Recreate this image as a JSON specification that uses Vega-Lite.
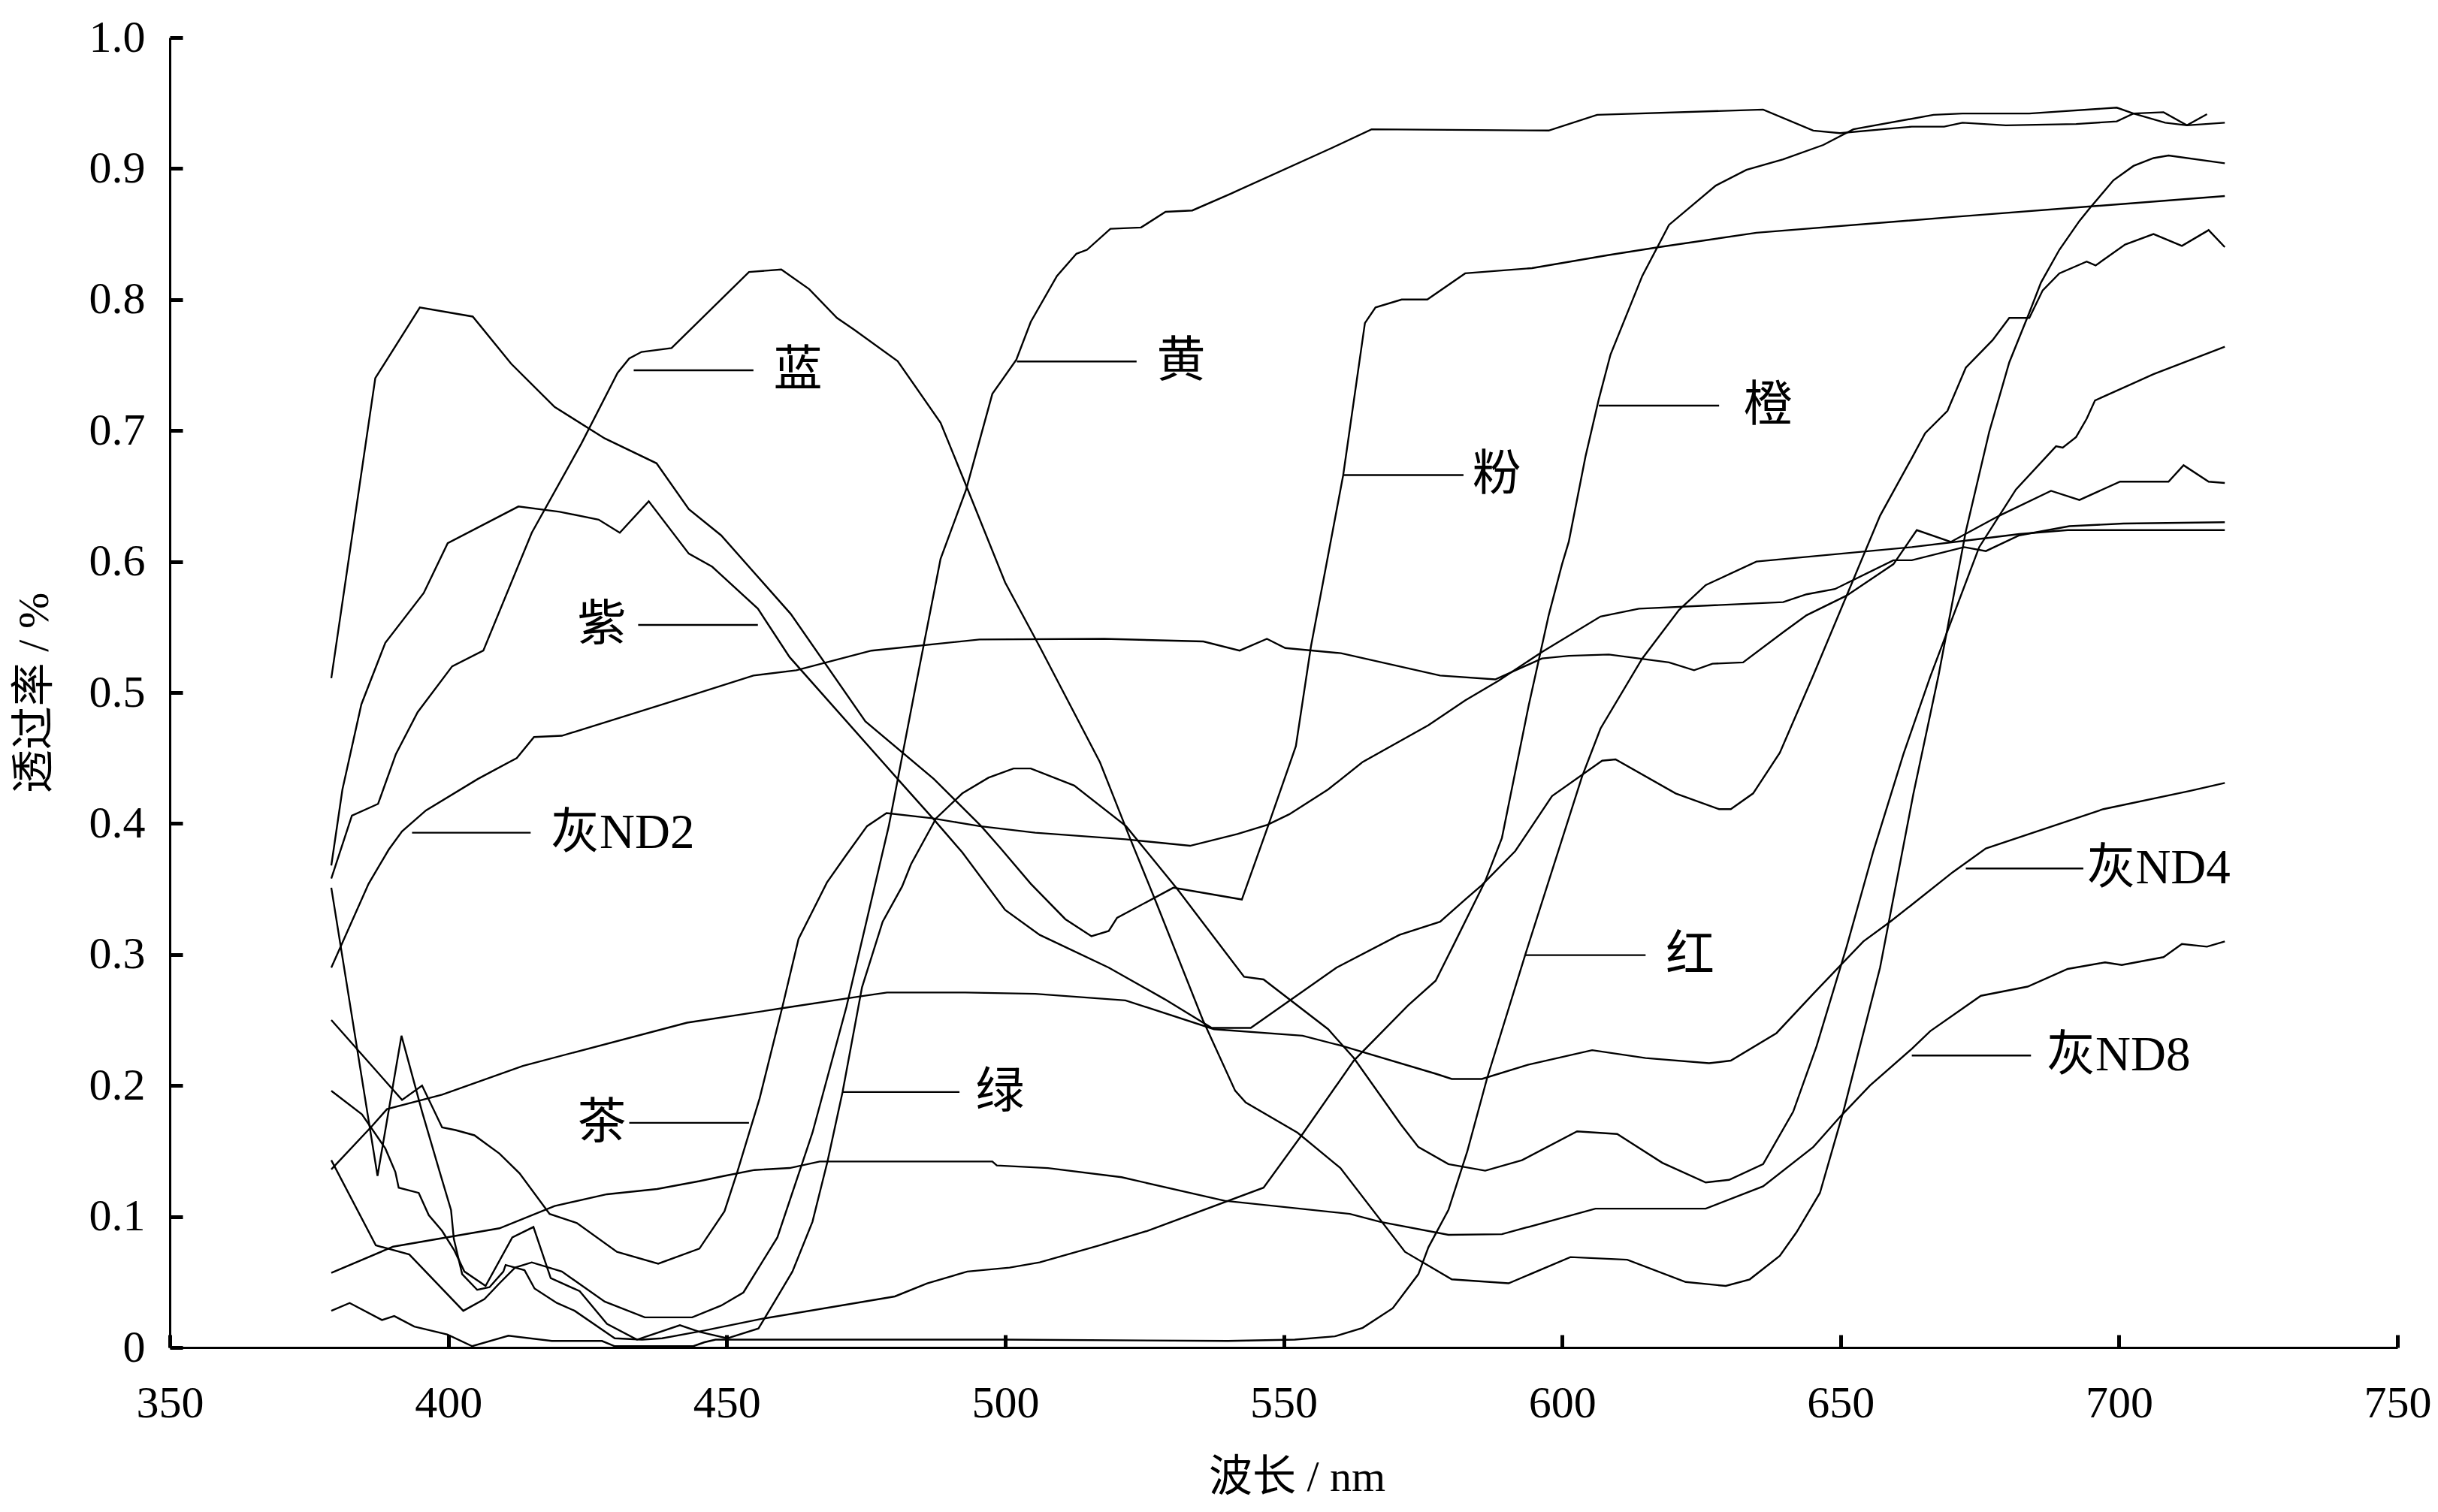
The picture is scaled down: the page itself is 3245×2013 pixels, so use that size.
{
  "$schema": "https://vega.github.io/schema/vega-lite/v6.json",
  "autosize": {"type": "none"},
  "padding": {"left": 226, "top": 50, "right": 54, "bottom": 219},
  "width": 2965,
  "height": 1744,
  "background": "white",
  "config": {
    "view": {"stroke": null},
    "axis": {
      "grid": false,
      "domainColor": "black",
      "domainWidth": 3,
      "tickColor": "black",
      "tickWidth": 5,
      "tickSize": -17,
      "labelFlush": false,
      "labelFont": "Liberation Serif",
      "labelFontSize": 60,
      "labelColor": "black",
      "titleFont": "Liberation Serif, Noto Sans CJK SC",
      "titleFontSize": 58,
      "titleFontWeight": "normal",
      "titleColor": "black"
    }
  },
  "datasets": {
    "curves": [
      {"s":"粉","w":379,"t":0.511},{"s":"粉","w":386.9,"t":0.740},{"s":"粉","w":394.9,"t":0.794},{"s":"粉","w":404.4,"t":0.787},{"s":"粉","w":411.3,"t":0.751},{"s":"粉","w":419.1,"t":0.718},{"s":"粉","w":428.1,"t":0.694},{"s":"粉","w":437.4,"t":0.675},{"s":"粉","w":443.2,"t":0.640},{"s":"粉","w":449,"t":0.620},{"s":"粉","w":461.5,"t":0.560},{"s":"粉","w":474.9,"t":0.478},{"s":"粉","w":487.2,"t":0.434},{"s":"粉","w":495.7,"t":0.398},{"s":"粉","w":499.2,"t":0.381},{"s":"粉","w":504.6,"t":0.354},{"s":"粉","w":510.8,"t":0.327},{"s":"粉","w":515.5,"t":0.314},{"s":"粉","w":518.6,"t":0.318},{"s":"粉","w":520.1,"t":0.328},{"s":"粉","w":530.2,"t":0.351},{"s":"粉","w":542.5,"t":0.342},{"s":"粉","w":547.2,"t":0.398},{"s":"粉","w":552.2,"t":0.459},{"s":"粉","w":554.9,"t":0.535},{"s":"粉","w":560.7,"t":0.666},{"s":"粉","w":564.6,"t":0.782},{"s":"粉","w":566.5,"t":0.794},{"s":"粉","w":571.2,"t":0.800},{"s":"粉","w":575.8,"t":0.800},{"s":"粉","w":582.6,"t":0.820},{"s":"粉","w":594.6,"t":0.824},{"s":"粉","w":608.4,"t":0.834},{"s":"粉","w":617.4,"t":0.840},{"s":"粉","w":634.9,"t":0.851},{"s":"粉","w":670.2,"t":0.863},{"s":"粉","w":719,"t":0.879},

      {"s":"蓝","w":379,"t":0.358},{"s":"蓝","w":382.7,"t":0.406},{"s":"蓝","w":387.4,"t":0.415},{"s":"蓝","w":390.6,"t":0.453},{"s":"蓝","w":394.5,"t":0.485},{"s":"蓝","w":400.7,"t":0.520},{"s":"蓝","w":406.3,"t":0.532},{"s":"蓝","w":415,"t":0.622},{"s":"蓝","w":423.9,"t":0.690},{"s":"蓝","w":430.4,"t":0.744},{"s":"蓝","w":432.5,"t":0.755},{"s":"蓝","w":434.7,"t":0.760},{"s":"蓝","w":440.1,"t":0.763},{"s":"蓝","w":454,"t":0.821},{"s":"蓝","w":459.8,"t":0.823},{"s":"蓝","w":464.8,"t":0.808},{"s":"蓝","w":469.8,"t":0.786},{"s":"蓝","w":472.9,"t":0.777},{"s":"蓝","w":480.7,"t":0.753},{"s":"蓝","w":488.4,"t":0.706},{"s":"蓝","w":493,"t":0.658},{"s":"蓝","w":500,"t":0.584},{"s":"蓝","w":506.2,"t":0.535},{"s":"蓝","w":517,"t":0.447},{"s":"蓝","w":522.4,"t":0.389},{"s":"蓝","w":527,"t":0.341},{"s":"蓝","w":535.5,"t":0.250},{"s":"蓝","w":541.3,"t":0.196},{"s":"蓝","w":543.2,"t":0.187},{"s":"蓝","w":552.5,"t":0.164},{"s":"蓝","w":560.2,"t":0.137},{"s":"蓝","w":571.8,"t":0.073},{"s":"蓝","w":580.2,"t":0.052},{"s":"蓝","w":590.4,"t":0.049},{"s":"蓝","w":601.5,"t":0.069},{"s":"蓝","w":611.7,"t":0.067},{"s":"蓝","w":622.2,"t":0.050},{"s":"蓝","w":629.4,"t":0.047},{"s":"蓝","w":633.7,"t":0.052},{"s":"蓝","w":639.1,"t":0.070},{"s":"蓝","w":642.1,"t":0.088},{"s":"蓝","w":646.3,"t":0.118},{"s":"蓝","w":650.5,"t":0.180},{"s":"蓝","w":657.1,"t":0.290},{"s":"蓝","w":663.1,"t":0.423},{"s":"蓝","w":667.6,"t":0.513},{"s":"蓝","w":672.5,"t":0.623},{"s":"蓝","w":676.7,"t":0.699},{"s":"蓝","w":680.3,"t":0.752},{"s":"蓝","w":683.9,"t":0.790},{"s":"蓝","w":686,"t":0.813},{"s":"蓝","w":689.3,"t":0.838},{"s":"蓝","w":692.9,"t":0.860},{"s":"蓝","w":694.8,"t":0.870},{"s":"蓝","w":699,"t":0.891},{"s":"蓝","w":702.6,"t":0.902},{"s":"蓝","w":706.2,"t":0.908},{"s":"蓝","w":708.9,"t":0.910},{"s":"蓝","w":719,"t":0.904},

      {"s":"紫","w":379,"t":0.368},{"s":"紫","w":381,"t":0.426},{"s":"紫","w":384.4,"t":0.491},{"s":"紫","w":388.7,"t":0.538},{"s":"紫","w":395.6,"t":0.576},{"s":"紫","w":399.9,"t":0.614},{"s":"紫","w":412.6,"t":0.642},{"s":"紫","w":420,"t":0.638},{"s":"紫","w":427,"t":0.632},{"s":"紫","w":430.8,"t":0.622},{"s":"紫","w":436,"t":0.646},{"s":"紫","w":443.2,"t":0.606},{"s":"紫","w":447.4,"t":0.596},{"s":"紫","w":455.6,"t":0.564},{"s":"紫","w":461.3,"t":0.527},{"s":"紫","w":480.7,"t":0.434},{"s":"紫","w":487,"t":0.404},{"s":"紫","w":492.3,"t":0.378},{"s":"紫","w":500,"t":0.334},{"s":"紫","w":506.2,"t":0.315},{"s":"紫","w":518.6,"t":0.290},{"s":"紫","w":528.6,"t":0.266},{"s":"紫","w":537.1,"t":0.244},{"s":"紫","w":544.1,"t":0.244},{"s":"紫","w":559.5,"t":0.290},{"s":"紫","w":570.8,"t":0.315},{"s":"紫","w":578.1,"t":0.325},{"s":"紫","w":582.6,"t":0.342},{"s":"紫","w":585.6,"t":0.353},{"s":"紫","w":591.6,"t":0.379},{"s":"紫","w":598.2,"t":0.421},{"s":"紫","w":607.2,"t":0.448},{"s":"紫","w":609.6,"t":0.449},{"s":"紫","w":620.4,"t":0.423},{"s":"紫","w":628.2,"t":0.411},{"s":"紫","w":630.3,"t":0.411},{"s":"紫","w":634.3,"t":0.423},{"s":"紫","w":639.1,"t":0.454},{"s":"紫","w":645.1,"t":0.513},{"s":"紫","w":657.1,"t":0.635},{"s":"紫","w":662.8,"t":0.679},{"s":"紫","w":665.2,"t":0.698},{"s":"紫","w":669.2,"t":0.715},{"s":"紫","w":672.5,"t":0.748},{"s":"紫","w":677.3,"t":0.769},{"s":"紫","w":680.3,"t":0.786},{"s":"紫","w":683.9,"t":0.786},{"s":"紫","w":686.3,"t":0.807},{"s":"紫","w":689.3,"t":0.820},{"s":"紫","w":694.2,"t":0.829},{"s":"紫","w":695.8,"t":0.826},{"s":"紫","w":701.1,"t":0.842},{"s":"紫","w":706.2,"t":0.850},{"s":"紫","w":711.3,"t":0.841},{"s":"紫","w":716.1,"t":0.853},{"s":"紫","w":719,"t":0.840},

      {"s":"黄","w":379,"t":0.143},{"s":"黄","w":387,"t":0.078},{"s":"黄","w":393,"t":0.071},{"s":"黄","w":402.7,"t":0.028},{"s":"黄","w":406.5,"t":0.037},{"s":"黄","w":409.2,"t":0.049},{"s":"黄","w":412,"t":0.061},{"s":"黄","w":415,"t":0.065},{"s":"黄","w":420.4,"t":0.058},{"s":"黄","w":428.1,"t":0.035},{"s":"黄","w":435.3,"t":0.023},{"s":"黄","w":443.8,"t":0.023},{"s":"黄","w":449,"t":0.032},{"s":"黄","w":453,"t":0.042},{"s":"黄","w":459.1,"t":0.084},{"s":"黄","w":465.4,"t":0.164},{"s":"黄","w":471.5,"t":0.260},{"s":"黄","w":477.5,"t":0.369},{"s":"黄","w":479.1,"t":0.398},{"s":"黄","w":483.8,"t":0.502},{"s":"黄","w":488.4,"t":0.602},{"s":"黄","w":493,"t":0.655},{"s":"黄","w":497.7,"t":0.728},{"s":"黄","w":502,"t":0.754},{"s":"黄","w":504.6,"t":0.783},{"s":"黄","w":509.3,"t":0.818},{"s":"黄","w":512.8,"t":0.835},{"s":"黄","w":514.7,"t":0.838},{"s":"黄","w":518.9,"t":0.854},{"s":"黄","w":524.4,"t":0.855},{"s":"黄","w":528.8,"t":0.867},{"s":"黄","w":533.6,"t":0.868},{"s":"黄","w":540.6,"t":0.881},{"s":"黄","w":558.8,"t":0.916},{"s":"黄","w":565.8,"t":0.930},{"s":"黄","w":597.6,"t":0.929},{"s":"黄","w":606.3,"t":0.941},{"s":"黄","w":636.1,"t":0.945},{"s":"黄","w":645.1,"t":0.929},{"s":"黄","w":649.9,"t":0.927},{"s":"黄","w":662.8,"t":0.932},{"s":"黄","w":668.6,"t":0.932},{"s":"黄","w":671.9,"t":0.935},{"s":"黄","w":679.7,"t":0.933},{"s":"黄","w":692.3,"t":0.934},{"s":"黄","w":699.6,"t":0.936},{"s":"黄","w":702.6,"t":0.942},{"s":"黄","w":708,"t":0.943},{"s":"黄","w":712.2,"t":0.933},{"s":"黄","w":719,"t":0.935},

      {"s":"绿","w":379,"t":0.196},{"s":"绿","w":384.5,"t":0.178},{"s":"绿","w":388.7,"t":0.152},{"s":"绿","w":390.5,"t":0.134},{"s":"绿","w":391.1,"t":0.122},{"s":"绿","w":394.7,"t":0.118},{"s":"绿","w":396.5,"t":0.101},{"s":"绿","w":398.9,"t":0.089},{"s":"绿","w":401.1,"t":0.074},{"s":"绿","w":402.9,"t":0.058},{"s":"绿","w":406.7,"t":0.047},{"s":"绿","w":411.5,"t":0.084},{"s":"绿","w":415.3,"t":0.092},{"s":"绿","w":418.4,"t":0.053},{"s":"绿","w":423.6,"t":0.043},{"s":"绿","w":428.5,"t":0.018},{"s":"绿","w":433.9,"t":0.006},{"s":"绿","w":441.6,"t":0.017},{"s":"绿","w":445.1,"t":0.012},{"s":"绿","w":450.1,"t":0.007},{"s":"绿","w":455.7,"t":0.0145},{"s":"绿","w":458.6,"t":0.035},{"s":"绿","w":461.8,"t":0.058},{"s":"绿","w":465.4,"t":0.096},{"s":"绿","w":468.1,"t":0.142},{"s":"绿","w":470.8,"t":0.195},{"s":"绿","w":474.3,"t":0.275},{"s":"绿","w":478,"t":0.325},{"s":"绿","w":481.5,"t":0.352},{"s":"绿","w":483.1,"t":0.369},{"s":"绿","w":487.6,"t":0.404},{"s":"绿","w":492.3,"t":0.423},{"s":"绿","w":497,"t":0.435},{"s":"绿","w":501.5,"t":0.442},{"s":"绿","w":504.6,"t":0.442},{"s":"绿","w":512.4,"t":0.429},{"s":"绿","w":521.7,"t":0.398},{"s":"绿","w":530.9,"t":0.350},{"s":"绿","w":542.9,"t":0.283},{"s":"绿","w":546.4,"t":0.281},{"s":"绿","w":558,"t":0.243},{"s":"绿","w":562.6,"t":0.221},{"s":"绿","w":571.1,"t":0.170},{"s":"绿","w":574.2,"t":0.153},{"s":"绿","w":579.6,"t":0.140},{"s":"绿","w":586.2,"t":0.135},{"s":"绿","w":592.8,"t":0.143},{"s":"绿","w":602.7,"t":0.165},{"s":"绿","w":609.9,"t":0.163},{"s":"绿","w":618,"t":0.141},{"s":"绿","w":625.8,"t":0.126},{"s":"绿","w":630,"t":0.128},{"s":"绿","w":636.1,"t":0.140},{"s":"绿","w":641.5,"t":0.180},{"s":"绿","w":645.7,"t":0.230},{"s":"绿","w":651.1,"t":0.306},{"s":"绿","w":655.9,"t":0.379},{"s":"绿","w":661.3,"t":0.453},{"s":"绿","w":666.1,"t":0.512},{"s":"绿","w":674.9,"t":0.611},{"s":"绿","w":678.5,"t":0.635},{"s":"绿","w":681.5,"t":0.655},{"s":"绿","w":688.7,"t":0.688},{"s":"绿","w":689.9,"t":0.687},{"s":"绿","w":692.3,"t":0.695},{"s":"绿","w":694.2,"t":0.709},{"s":"绿","w":695.7,"t":0.723},{"s":"绿","w":706.2,"t":0.743},{"s":"绿","w":719,"t":0.764},

      {"s":"橙","w":379,"t":0.351},{"s":"橙","w":387.3,"t":0.131},{"s":"橙","w":391.6,"t":0.238},{"s":"橙","w":395.3,"t":0.180},{"s":"橙","w":398.4,"t":0.135},{"s":"橙","w":400.5,"t":0.105},{"s":"橙","w":401,"t":0.083},{"s":"橙","w":402.5,"t":0.056},{"s":"橙","w":405.2,"t":0.044},{"s":"橙","w":407.4,"t":0.046},{"s":"橙","w":409.9,"t":0.058},{"s":"橙","w":410.3,"t":0.063},{"s":"橙","w":413.7,"t":0.059},{"s":"橙","w":415.5,"t":0.045},{"s":"橙","w":419.5,"t":0.034},{"s":"橙","w":422.7,"t":0.028},{"s":"橙","w":429.9,"t":0.007},{"s":"橙","w":434.8,"t":0.006},{"s":"橙","w":438.4,"t":0.007},{"s":"橙","w":446,"t":0.013},{"s":"橙","w":456.4,"t":0.022},{"s":"橙","w":480.2,"t":0.039},{"s":"橙","w":486,"t":0.049},{"s":"橙","w":493.2,"t":0.058},{"s":"橙","w":500.8,"t":0.061},{"s":"橙","w":506.2,"t":0.065},{"s":"橙","w":517,"t":0.078},{"s":"橙","w":525.5,"t":0.089},{"s":"橙","w":546.4,"t":0.122},{"s":"橙","w":553.4,"t":0.163},{"s":"橙","w":562.6,"t":0.219},{"s":"橙","w":572.3,"t":0.261},{"s":"橙","w":577.3,"t":0.280},{"s":"橙","w":580.6,"t":0.308},{"s":"橙","w":586.2,"t":0.356},{"s":"橙","w":589.2,"t":0.389},{"s":"橙","w":594,"t":0.490},{"s":"橙","w":597.6,"t":0.559},{"s":"橙","w":600,"t":0.598},{"s":"橙","w":601.2,"t":0.615},{"s":"橙","w":604.2,"t":0.680},{"s":"橙","w":606.6,"t":0.724},{"s":"橙","w":608.7,"t":0.758},{"s":"橙","w":614.4,"t":0.818},{"s":"橙","w":619.2,"t":0.857},{"s":"橙","w":627.6,"t":0.887},{"s":"橙","w":633.1,"t":0.899},{"s":"橙","w":639.7,"t":0.907},{"s":"橙","w":646.9,"t":0.918},{"s":"橙","w":652.3,"t":0.930},{"s":"橙","w":666.7,"t":0.941},{"s":"橙","w":671.9,"t":0.942},{"s":"橙","w":683.9,"t":0.942},{"s":"橙","w":699.6,"t":0.9465},{"s":"橙","w":702.6,"t":0.942},{"s":"橙","w":708.3,"t":0.935},{"s":"橙","w":712.2,"t":0.933},{"s":"橙","w":715.8,"t":0.9415},

      {"s":"红","w":379,"t":0.028},{"s":"红","w":382.3,"t":0.034},{"s":"红","w":388.1,"t":0.021},{"s":"红","w":390.3,"t":0.024},{"s":"红","w":393.9,"t":0.016},{"s":"红","w":399.8,"t":0.010},{"s":"红","w":404.3,"t":0.001},{"s":"红","w":410.8,"t":0.009},{"s":"红","w":418.6,"t":0.005},{"s":"红","w":427.6,"t":0.005},{"s":"红","w":429.9,"t":0.001},{"s":"红","w":444,"t":0.001},{"s":"红","w":446,"t":0.004},{"s":"红","w":448,"t":0.006},{"s":"红","w":480,"t":0.006},{"s":"红","w":500,"t":0.006},{"s":"红","w":540,"t":0.005},{"s":"红","w":552,"t":0.006},{"s":"红","w":559.2,"t":0.0085},{"s":"红","w":564.2,"t":0.015},{"s":"红","w":569.6,"t":0.030},{"s":"红","w":574.2,"t":0.056},{"s":"红","w":576,"t":0.0765},{"s":"红","w":579.6,"t":0.105},{"s":"红","w":583,"t":0.150},{"s":"红","w":586.5,"t":0.205},{"s":"红","w":593.4,"t":0.300},{"s":"红","w":603.6,"t":0.436},{"s":"红","w":606.9,"t":0.4725},{"s":"红","w":614.4,"t":0.526},{"s":"红","w":621,"t":0.563},{"s":"红","w":625.8,"t":0.582},{"s":"红","w":634.9,"t":0.600},{"s":"红","w":662.8,"t":0.611},{"s":"红","w":672.5,"t":0.616},{"s":"红","w":682.1,"t":0.621},{"s":"红","w":690.8,"t":0.624},{"s":"红","w":719,"t":0.624},

      {"s":"茶","w":379,"t":0.250},{"s":"茶","w":391.7,"t":0.189},{"s":"茶","w":395.3,"t":0.200},{"s":"茶","w":398.9,"t":0.168},{"s":"茶","w":401.3,"t":0.166},{"s":"茶","w":404.7,"t":0.162},{"s":"茶","w":409.2,"t":0.148},{"s":"茶","w":412.8,"t":0.133},{"s":"茶","w":418.2,"t":0.102},{"s":"茶","w":423.1,"t":0.095},{"s":"茶","w":430.3,"t":0.073},{"s":"茶","w":437.7,"t":0.064},{"s":"茶","w":445.1,"t":0.0755},{"s":"茶","w":449.6,"t":0.104},{"s":"茶","w":451.9,"t":0.134},{"s":"茶","w":455.9,"t":0.190},{"s":"茶","w":460,"t":0.260},{"s":"茶","w":462.9,"t":0.312},{"s":"茶","w":465.4,"t":0.333},{"s":"茶","w":468,"t":0.355},{"s":"茶","w":471.3,"t":0.375},{"s":"茶","w":475.2,"t":0.398},{"s":"茶","w":478.7,"t":0.408},{"s":"茶","w":486.9,"t":0.404},{"s":"茶","w":495.4,"t":0.398},{"s":"茶","w":505.4,"t":0.393},{"s":"茶","w":521.6,"t":0.388},{"s":"茶","w":533.2,"t":0.383},{"s":"茶","w":541.7,"t":0.392},{"s":"茶","w":547.1,"t":0.399},{"s":"茶","w":551,"t":0.407},{"s":"茶","w":558,"t":0.426},{"s":"茶","w":564.2,"t":0.447},{"s":"茶","w":576,"t":0.475},{"s":"茶","w":582.6,"t":0.494},{"s":"茶","w":588.6,"t":0.509},{"s":"茶","w":596.4,"t":0.531},{"s":"茶","w":606.9,"t":0.558},{"s":"茶","w":613.8,"t":0.564},{"s":"茶","w":639.7,"t":0.569},{"s":"茶","w":643.9,"t":0.575},{"s":"茶","w":649,"t":0.579},{"s":"茶","w":659.5,"t":0.601},{"s":"茶","w":662.8,"t":0.601},{"s":"茶","w":672.2,"t":0.611},{"s":"茶","w":676.1,"t":0.608},{"s":"茶","w":682.1,"t":0.620},{"s":"茶","w":691.1,"t":0.627},{"s":"茶","w":700.8,"t":0.629},{"s":"茶","w":719,"t":0.630},

      {"s":"灰ND2","w":379,"t":0.290},{"s":"灰ND2","w":385.7,"t":0.354},{"s":"灰ND2","w":389.3,"t":0.380},{"s":"灰ND2","w":391.7,"t":0.394},{"s":"灰ND2","w":396,"t":0.410},{"s":"灰ND2","w":405.3,"t":0.434},{"s":"灰ND2","w":412.3,"t":0.450},{"s":"灰ND2","w":415.4,"t":0.466},{"s":"灰ND2","w":420.4,"t":0.467},{"s":"灰ND2","w":439.3,"t":0.492},{"s":"灰ND2","w":454.8,"t":0.513},{"s":"灰ND2","w":462.5,"t":0.517},{"s":"灰ND2","w":476,"t":0.532},{"s":"灰ND2","w":495.4,"t":0.5405},{"s":"灰ND2","w":517.8,"t":0.541},{"s":"灰ND2","w":535.6,"t":0.539},{"s":"灰ND2","w":542.1,"t":0.532},{"s":"灰ND2","w":547,"t":0.541},{"s":"灰ND2","w":550.3,"t":0.534},{"s":"灰ND2","w":560.3,"t":0.530},{"s":"灰ND2","w":578.1,"t":0.513},{"s":"灰ND2","w":588,"t":0.510},{"s":"灰ND2","w":596.4,"t":0.526},{"s":"灰ND2","w":601.2,"t":0.528},{"s":"灰ND2","w":608.4,"t":0.529},{"s":"灰ND2","w":619.2,"t":0.523},{"s":"灰ND2","w":623.7,"t":0.517},{"s":"灰ND2","w":627,"t":0.522},{"s":"灰ND2","w":632.5,"t":0.523},{"s":"灰ND2","w":639.7,"t":0.546},{"s":"灰ND2","w":643.9,"t":0.559},{"s":"灰ND2","w":651.1,"t":0.574},{"s":"灰ND2","w":659.5,"t":0.598},{"s":"灰ND2","w":663.7,"t":0.624},{"s":"灰ND2","w":669.8,"t":0.615},{"s":"灰ND2","w":678.5,"t":0.635},{"s":"灰ND2","w":687.8,"t":0.654},{"s":"灰ND2","w":692.9,"t":0.647},{"s":"灰ND2","w":700.2,"t":0.661},{"s":"灰ND2","w":708.9,"t":0.661},{"s":"灰ND2","w":711.6,"t":0.6735},{"s":"灰ND2","w":716.1,"t":0.661},{"s":"灰ND2","w":719,"t":0.660},

      {"s":"灰ND4","w":379,"t":0.136},{"s":"灰ND4","w":386.3,"t":0.169},{"s":"灰ND4","w":389,"t":0.182},{"s":"灰ND4","w":398.9,"t":0.193},{"s":"灰ND4","w":413.4,"t":0.215},{"s":"灰ND4","w":442.9,"t":0.248},{"s":"灰ND4","w":460,"t":0.259},{"s":"灰ND4","w":473.9,"t":0.268},{"s":"灰ND4","w":478.8,"t":0.271},{"s":"灰ND4","w":492.8,"t":0.271},{"s":"灰ND4","w":505.4,"t":0.270},{"s":"灰ND4","w":521.6,"t":0.265},{"s":"灰ND4","w":537.5,"t":0.243},{"s":"灰ND4","w":553.4,"t":0.238},{"s":"灰ND4","w":560.7,"t":0.230},{"s":"灰ND4","w":577.3,"t":0.209},{"s":"灰ND4","w":580.2,"t":0.205},{"s":"灰ND4","w":585.6,"t":0.205},{"s":"灰ND4","w":594,"t":0.216},{"s":"灰ND4","w":605.4,"t":0.227},{"s":"灰ND4","w":615,"t":0.221},{"s":"灰ND4","w":626.4,"t":0.217},{"s":"灰ND4","w":630.3,"t":0.219},{"s":"灰ND4","w":638.5,"t":0.240},{"s":"灰ND4","w":645.1,"t":0.270},{"s":"灰ND4","w":654.1,"t":0.310},{"s":"灰ND4","w":658.9,"t":0.325},{"s":"灰ND4","w":662.8,"t":0.338},{"s":"灰ND4","w":670.2,"t":0.363},{"s":"灰ND4","w":676.1,"t":0.381},{"s":"灰ND4","w":697.2,"t":0.411},{"s":"灰ND4","w":712.8,"t":0.425},{"s":"灰ND4","w":719,"t":0.431},

      {"s":"灰ND8","w":379,"t":0.057},{"s":"灰ND8","w":390.1,"t":0.077},{"s":"灰ND8","w":409.2,"t":0.091},{"s":"灰ND8","w":419.1,"t":0.108},{"s":"灰ND8","w":428.5,"t":0.117},{"s":"灰ND8","w":437.5,"t":0.121},{"s":"灰ND8","w":445.1,"t":0.127},{"s":"灰ND8","w":449.6,"t":0.131},{"s":"灰ND8","w":455,"t":0.1355},{"s":"灰ND8","w":461.3,"t":0.137},{"s":"灰ND8","w":466.7,"t":0.142},{"s":"灰ND8","w":497.7,"t":0.142},{"s":"灰ND8","w":498.5,"t":0.139},{"s":"灰ND8","w":507.7,"t":0.137},{"s":"灰ND8","w":520.9,"t":0.130},{"s":"灰ND8","w":539.4,"t":0.112},{"s":"灰ND8","w":561.9,"t":0.102},{"s":"灰ND8","w":567.3,"t":0.096},{"s":"灰ND8","w":579.6,"t":0.086},{"s":"灰ND8","w":589.2,"t":0.0865},{"s":"灰ND8","w":606,"t":0.106},{"s":"灰ND8","w":625.8,"t":0.106},{"s":"灰ND8","w":636.1,"t":0.123},{"s":"灰ND8","w":645.1,"t":0.153},{"s":"灰ND8","w":649.9,"t":0.176},{"s":"灰ND8","w":655.3,"t":0.200},{"s":"灰ND8","w":662.8,"t":0.228},{"s":"灰ND8","w":666.1,"t":0.2415},{"s":"灰ND8","w":675.2,"t":0.2685},{"s":"灰ND8","w":683.6,"t":0.2755},{"s":"灰ND8","w":690.8,"t":0.289},{"s":"灰ND8","w":697.5,"t":0.294},{"s":"灰ND8","w":700.5,"t":0.292},{"s":"灰ND8","w":708,"t":0.298},{"s":"灰ND8","w":711.3,"t":0.308},{"s":"灰ND8","w":715.8,"t":0.306},{"s":"灰ND8","w":719,"t":0.310}
    ],
    "labels": [
      {"name":"蓝","w":433.3,"w2":454.8,"t":0.746,"lx":458.4},
      {"name":"黄","w":502.1,"w2":523.6,"t":0.7527,"lx":527.2},
      {"name":"粉","w":560.7,"w2":582.3,"t":0.666,"lx":583.9},
      {"name":"橙","w":606.6,"w2":628.2,"t":0.719,"lx":632.6},
      {"name":"紫","w":434.1,"w2":455.6,"t":0.5516,"lx":423.2},
      {"name":"灰ND2","w":393.5,"w2":414.8,"t":0.393,"lx":418.4},
      {"name":"茶","w":432.5,"w2":454,"t":0.1715,"lx":423.2},
      {"name":"绿","w":470.8,"w2":491.8,"t":0.195,"lx":494.7},
      {"name":"红","w":593.4,"w2":615,"t":0.2995,"lx":618.6},
      {"name":"灰ND4","w":672.5,"w2":693.6,"t":0.3657,"lx":694.2},
      {"name":"灰ND8","w":662.8,"w2":684.2,"t":0.2229,"lx":687}
    ]
  },
  "layer": [
    {
      "data": {"name": "curves"},
      "mark": {"type": "line", "color": "black", "strokeWidth": 2.4, "strokeJoin": "miter"},
      "encoding": {
        "x": {
          "field": "w", "type": "quantitative",
          "scale": {"domain": [350, 750], "nice": false, "zero": false},
          "axis": {
            "values": [350, 400, 450, 500, 550, 600, 650, 700, 750],
            "labelPadding": 62,
            "labelBaseline": "top",
            "title": "波长 / nm",
            "titleX": 1500,
            "titleY": 173,
            "titleBaseline": "middle",
            "titleAnchor": "middle"
          },
          "title": "波长 / nm"
        },
        "y": {
          "field": "t", "type": "quantitative",
          "scale": {"domain": [0, 1], "nice": false},
          "axis": {
            "values": [0, 0.1, 0.2, 0.3, 0.4, 0.5, 0.6, 0.7, 0.8, 0.9, 1.0],
            "labelExpr": "datum.value === 0 ? '0' : format(datum.value, '.1f')",
            "labelPadding": 50,
            "title": "透过率 / %",
            "titleX": -180,
            "titleY": 872,
            "titleAngle": -90,
            "titleBaseline": "middle",
            "titleAlign": "center"
          },
          "title": "透过率 / %"
        },
        "detail": {"field": "s", "type": "nominal"}
      }
    },
    {
      "data": {"name": "labels"},
      "mark": {"type": "rule", "color": "black", "strokeWidth": 2.4},
      "encoding": {
        "x": {"field": "w", "type": "quantitative", "scale": {"domain": [350, 750], "nice": false, "zero": false}, "title": "波长 / nm"},
        "x2": {"field": "w2"},
        "y": {"field": "t", "type": "quantitative", "scale": {"domain": [0, 1], "nice": false}, "title": "透过率 / %"}
      }
    },
    {
      "data": {"name": "labels"},
      "mark": {"type": "text", "align": "left", "baseline": "middle", "font": "Liberation Serif, Noto Sans CJK SC", "fontSize": 65, "color": "black"},
      "encoding": {
        "x": {"field": "lx", "type": "quantitative", "scale": {"domain": [350, 750], "nice": false, "zero": false}, "title": "波长 / nm"},
        "y": {"field": "t", "type": "quantitative", "scale": {"domain": [0, 1], "nice": false}, "title": "透过率 / %"},
        "text": {"field": "name"}
      }
    }
  ]
}
